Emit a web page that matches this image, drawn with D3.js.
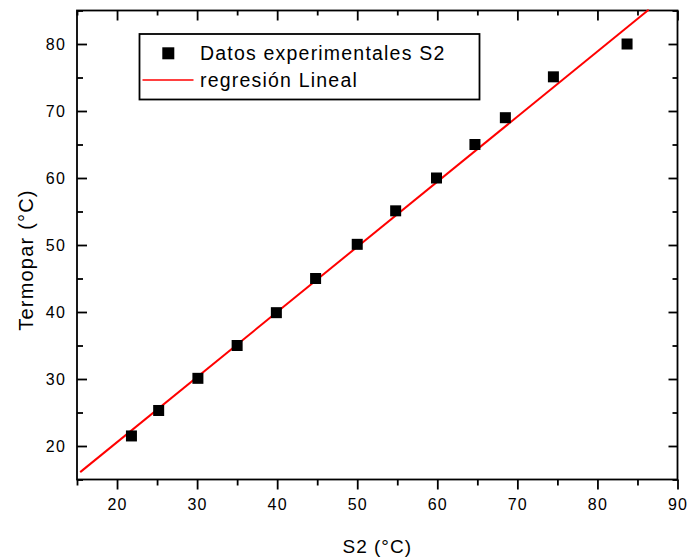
<!DOCTYPE html>
<html>
<head>
<meta charset="utf-8">
<script src="https://cdn.jsdelivr.net/npm/d3@7"></script>
<style>
  body { margin: 0; background: #fff; }
  text { font-family: "Liberation Sans", Arial, sans-serif; fill: #000; }
</style>
</head>
<body>
<script>
// data
var s2 = [21.8, 25.2, 30.1, 35.0, 39.9, 44.8, 50.0, 54.8, 59.9, 64.7, 68.5, 74.5, 83.7];
var termopar = [21.5, 25.3, 30.1, 35.0, 39.9, 45.0, 50.1, 55.1, 60.0, 65.0, 69.0, 75.1, 80.0];
// ends of the fitted line
var fitX = [15.4, 86.4];
var fitY = [16.1, 85.1];
var xMajor = [20, 30, 40, 50, 60, 70, 80, 90];
var xMinor = [15, 25, 35, 45, 55, 65, 75, 85];
var yMajor = [20, 30, 40, 50, 60, 70, 80];
var yMinor = [15, 25, 35, 45, 55, 65, 75, 85];
var legendLabels = ["Datos experimentales S2", "regresión Lineal"];

var fullwidth = 687,
    fullheight = 557;
var plotLeft = 77, plotRight = 677.5, plotTop = 10.5, plotBottom = 479.5;

var x = d3.scaleLinear().domain([15, 90]).range([plotLeft, plotRight]);
var y = d3.scaleLinear().domain([15, 85]).range([plotBottom, plotTop]);

var svg = d3.select("body").append("svg")
    .attr("width", fullwidth)
    .attr("height", fullheight);

// tick marks, minor first then major with labels
function drawAxis(axis, tr, major, minor, majorSize, minorSize, labels, pad) {
  var gm = svg.append("g").attr("transform", tr)
      .call(axis().tickValues(minor).tickSize(minorSize).tickFormat(""));
  var g = svg.append("g").attr("transform", tr)
      .call(axis().tickValues(major).tickSize(majorSize).tickPadding(pad)
        .tickFormat(labels ? d3.format("d") : ""));
  [gm, g].forEach(function(s) {
    s.select(".domain").remove();
    s.selectAll("line").attr("stroke", "#000").attr("stroke-width", 1.8);
  });
  g.selectAll("text").attr("font-size", 16).attr("letter-spacing", 1.2)
    .attr("font-family", '"Liberation Sans", Arial, sans-serif').attr("fill", "#000");
  return g;
}

function bottomAxis() { return d3.axisBottom(x); }
function topAxis() { return d3.axisTop(x); }
function leftAxis() { return d3.axisLeft(y); }
function rightAxis() { return d3.axisRight(y); }

drawAxis(bottomAxis, "translate(0," + plotBottom + ")", xMajor, xMinor, 10, 6, true, 9);
drawAxis(topAxis, "translate(0," + plotTop + ")", xMajor, xMinor, -10, -5, false, 0);
drawAxis(leftAxis, "translate(" + plotLeft + ",0)", yMajor, yMinor, -10, -6, true, 11);
drawAxis(rightAxis, "translate(" + plotRight + ",0)", yMajor, yMinor, -9, -5, false, 0);

// frame
svg.append("rect")
    .attr("x", plotLeft).attr("y", plotTop)
    .attr("width", plotRight - plotLeft).attr("height", plotBottom - plotTop)
    .attr("fill", "none").attr("stroke", "#000").attr("stroke-width", 1.8);

// regression line
var line = d3.line()
    .x(function(d) { return x(d[0]); })
    .y(function(d) { return y(d[1]); });
svg.append("path")
    .datum(d3.zip(fitX, fitY))
    .attr("d", line)
    .attr("fill", "none")
    .attr("stroke", "#ff0000")
    .attr("stroke-width", 2);

// data points
var size = 11;
svg.selectAll(".dot")
    .data(d3.zip(s2, termopar))
  .enter().append("rect")
    .attr("class", "dot")
    .attr("x", function(d) { return x(d[0]) - size / 2; })
    .attr("y", function(d) { return y(d[1]) - size / 2; })
    .attr("width", size)
    .attr("height", size)
    .attr("fill", "#000");

// axis titles
svg.append("text")
    .attr("x", (plotLeft + plotRight) / 2)
    .attr("y", 553)
    .attr("text-anchor", "middle")
    .attr("font-size", 19)
    .attr("letter-spacing", 1)
    .text("S2 (°C)");

svg.append("text")
    .attr("transform", "translate(33,260) rotate(-90)")
    .attr("text-anchor", "middle")
    .attr("font-size", 20)
    .attr("letter-spacing", 1.2)
    .text("Termopar (°C)");

// legend
var legend = svg.append("g");
legend.append("rect")
    .attr("x", 139.5).attr("y", 34)
    .attr("width", 340).attr("height", 65.5)
    .attr("fill", "#fff").attr("stroke", "#000").attr("stroke-width", 1.8);
legend.append("rect")
    .attr("x", 168.3 - 6).attr("y", 53.3 - 6)
    .attr("width", 12).attr("height", 12)
    .attr("fill", "#000");
legend.append("line")
    .attr("x1", 142.5).attr("x2", 193.5)
    .attr("y1", 80).attr("y2", 80)
    .attr("stroke", "#ff0000").attr("stroke-width", 1.5);
legend.selectAll(".lbl")
    .data(legendLabels)
  .enter().append("text")
    .attr("class", "lbl")
    .attr("x", 200)
    .attr("y", function(d, i) { return 60 + i * 27; })
    .attr("font-size", 19.5)
    .attr("letter-spacing", 1.2)
    .text(function(d) { return d; });
</script>
</body>
</html>
